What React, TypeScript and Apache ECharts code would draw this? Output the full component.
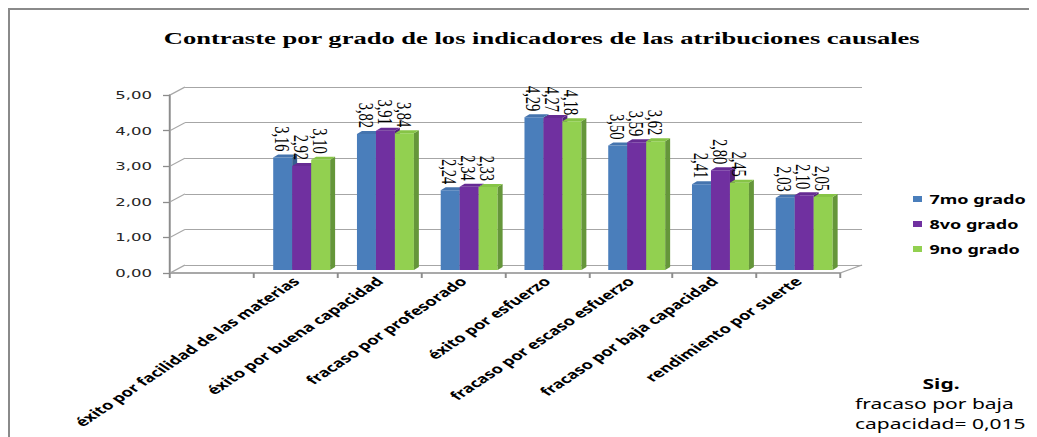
import React, { useEffect, useRef } from 'react';
import * as echarts from 'echarts';

const categories = [
  '',
  'éxito por facilidad de las materias',
  'éxito por buena capacidad',
  'fracaso por profesorado',
  'éxito por esfuerzo',
  'fracaso por escaso esfuerzo',
  'fracaso por baja capacidad',
  'rendimiento por suerte',
];
const grade7 = [3.16, 3.82, 2.24, 4.29, 3.5, 2.41, 2.03];
const grade8 = [2.92, 3.91, 2.34, 4.27, 3.59, 2.8, 2.1];
const grade9 = [3.1, 3.84, 2.33, 4.18, 3.62, 2.45, 2.05];
const seriesNames = ['7mo grado', '8vo grado', '9no grado'];
const yTicks = [0, 1, 2, 3, 4, 5];
const titleText = 'Contraste por grado de los indicadores de las atribuciones causales';
const noteTitle = 'Sig.';
const noteLines = ['fracaso por baja', 'capacidad= 0,015'];

const STRETCH = 1.5;
const W = 685;
const H = 427;
const FRONT = { left: 106.7, top: 85, width: 446.7, height: 178 };
const BACK = { left: 116.7, top: 77, width: 451.3, height: 178 };
const GRID_COLOR = '#a6a6a6';
const AXIS_COLOR = '#8c8c8c';

const palette = [
  { front: '#4a7ebb', side: '#365e8f', top: '#4574ae' },
  { front: '#7030a0', side: '#53237a', top: '#662b93' },
  { front: '#92d050', side: '#65963a', top: '#86c446' },
];

const fmt = (v: number) => v.toFixed(2).replace('.', ',');

export default function App() {
  const ref = useRef<HTMLDivElement>(null);

  useEffect(() => {
    document.documentElement.style.overflow = 'hidden';
    document.body.style.overflow = 'hidden';
    const chart = echarts.init(ref.current!, null, { renderer: 'svg', width: W, height: H });
    const grades = [grade7, grade8, grade9];

    const makeRender = (k: number) => (params: any, api: any) => {
      const ci = api.value(0);
      const v = api.value(1);
      const top = api.coord([ci, v]);
      const base = api.coord([ci, 0]);
      const catW = api.size([1, 0])[0];
      const groupW = catW * 0.68;
      const bw = groupW / 3;
      const offX = 4;
      const offY = -3;
      const dx = 3.3;
      const dy = -3;
      const x0 = top[0] - groupW / 2 + k * bw + offX;
      const yT = top[1] + offY;
      const yB = base[1] + offY;
      const c = palette[k];
      return {
        type: 'group',
        children: [
          { type: 'rect', shape: { x: x0, y: yT, width: bw, height: yB - yT }, style: { fill: c.front } },
          {
            type: 'polygon',
            shape: { points: [[x0 + bw, yT], [x0 + bw + dx, yT + dy], [x0 + bw + dx, yB + dy], [x0 + bw, yB]] },
            style: { fill: c.side },
          },
          {
            type: 'polygon',
            shape: { points: [[x0, yT], [x0 + dx, yT + dy], [x0 + bw + dx, yT + dy], [x0 + bw, yT]] },
            style: { fill: c.top },
          },
          {
            type: 'text',
            x: x0 + bw / 2 - 0.5,
            y: yT - 6,
            rotation: -Math.PI / 2,
            style: {
              text: fmt(v),
              align: 'right',
              verticalAlign: 'middle',
              fontFamily: 'Liberation Serif',
              fontSize: 14.5,
              fill: '#000',
            },
          },
        ],
      };
    };

    const option: any = {
      animation: false,
      backgroundColor: '#fff',
      title: {
        text: titleText,
        left: 349.5,
        textAlign: 'center',
        top: 14,
        textStyle: { fontFamily: 'Liberation Serif', fontWeight: 'bold', fontSize: 17.7, color: '#000' },
      },
      legend: {
        data: seriesNames,
        orient: 'vertical',
        left: 597,
        top: 178,
        icon: 'rect',
        itemWidth: 6,
        itemHeight: 6,
        itemGap: 13,
        textStyle: { fontFamily: 'Noto Sans', fontWeight: 'bold', fontSize: 12, color: '#000', padding: [0, 0, 0, 0] },
      },
      grid: [
        { left: FRONT.left, top: FRONT.top, width: FRONT.width, height: FRONT.height, containLabel: false, outerBoundsMode: 'none' },
        { left: BACK.left, top: BACK.top, width: BACK.width, height: BACK.height, containLabel: false, outerBoundsMode: 'none' },
      ],
      xAxis: [
        {
          type: 'category',
          gridIndex: 0,
          data: categories,
          boundaryGap: true,
          axisLine: { show: true, lineStyle: { color: AXIS_COLOR, width: 1.5 } },
          axisTick: { show: true, length: 5, lineStyle: { color: AXIS_COLOR, width: 1.3 } },
          axisLabel: {
            interval: 0,
            rotate: 45,
            margin: 6,
            fontFamily: 'Noto Sans',
            fontWeight: 'bold',
            fontSize: 12.2,
            color: '#000',
          },
          splitLine: { show: false },
        },
        { type: 'category', gridIndex: 1, data: categories, show: false },
      ],
      yAxis: [
        {
          type: 'value',
          gridIndex: 0,
          min: 0,
          max: 5,
          interval: 1,
          axisLine: { show: true, lineStyle: { color: AXIS_COLOR, width: 1.3 } },
          axisTick: { show: true, length: 4.7, lineStyle: { color: AXIS_COLOR, width: 1.3 } },
          axisLabel: {
            margin: 12,
            formatter: (v: number) => fmt(v),
            fontFamily: 'DejaVu Sans',
            fontSize: 11,
            color: '#262626',
          },
          splitLine: { show: false },
        },
        {
          type: 'value',
          gridIndex: 1,
          min: 0,
          max: 5,
          interval: 1,
          axisLine: { show: false },
          axisTick: { show: false },
          axisLabel: { show: false },
          splitLine: { show: true, lineStyle: { color: GRID_COLOR, width: 1 } },
        },
      ],
      series: seriesNames.map((name, k) => ({
        type: 'custom',
        name,
        xAxisIndex: 0,
        yAxisIndex: 0,
        clip: false,
        z: 5,
        itemStyle: { color: palette[k].front },
        encode: { x: 0, y: 1 },
        data: grades[k].map((v, i) => [i + 1, v]),
        renderItem: makeRender(k),
      })),
    };
    chart.setOption(option);

    const lines: any[] = [];
    yTicks.forEach((t) => {
      const yf = chart.convertToPixel({ yAxisIndex: 0 }, t) as number;
      const yb = chart.convertToPixel({ yAxisIndex: 1 }, t) as number;
      lines.push({
        type: 'line',
        silent: true,
        z: 1,
        shape: { x1: FRONT.left, y1: yf, x2: BACK.left, y2: yb },
        style: { stroke: GRID_COLOR, lineWidth: 1 },
      });
    });
    const yf0 = chart.convertToPixel({ yAxisIndex: 0 }, 0) as number;
    const yb0 = chart.convertToPixel({ yAxisIndex: 1 }, 0) as number;
    lines.push({
      type: 'line',
      silent: true,
      z: 1,
      shape: { x1: FRONT.left + FRONT.width, y1: yf0, x2: BACK.left + BACK.width, y2: yb0 },
      style: { stroke: GRID_COLOR, lineWidth: 1 },
    });
    lines.push({
      type: 'text',
      x: 620.7,
      y: 374,
      style: { text: noteTitle, align: 'center', verticalAlign: 'middle', fontFamily: 'Noto Sans', fontWeight: 'bold', fontSize: 14, fill: '#000' },
    });
    noteLines.forEach((t, i) => {
      lines.push({
        type: 'text',
        x: 563.3,
        y: 394 + i * 20,
        style: { text: t, align: 'left', verticalAlign: 'middle', fontFamily: 'Noto Sans', fontSize: 14, fill: '#000' },
      });
    });
    chart.setOption({ graphic: lines });

    return () => chart.dispose();
  }, []);

  return (
    <div
      style={{
        width: 1029,
        height: 429,
        boxSizing: 'border-box',
        borderTop: '2px solid #8a8a8a',
        borderLeft: '2px solid #8a8a8a',
        overflow: 'hidden',
        position: 'relative',
        background: '#fff',
      }}
    >
      <div
        ref={ref}
        style={{ width: W, height: H, transform: `scaleX(${STRETCH})`, transformOrigin: '0 0' }}
      />
    </div>
  );
}
